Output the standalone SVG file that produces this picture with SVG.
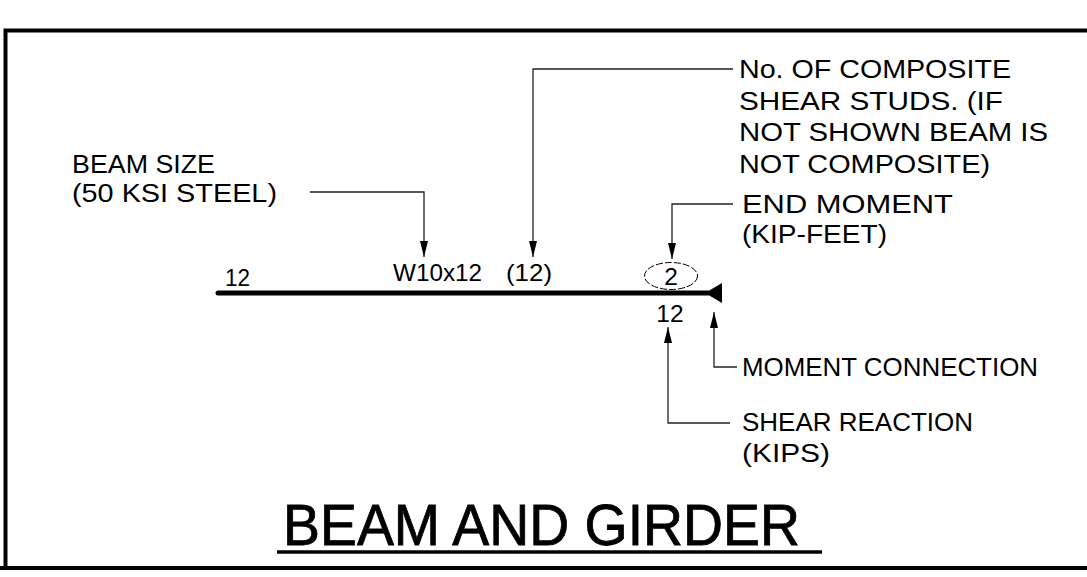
<svg xmlns="http://www.w3.org/2000/svg" width="1087" height="577" viewBox="0 0 1087 577">
<style>
.lbl{font-family:"Liberation Sans",Arial,sans-serif;font-size:26px;fill:#000}
.num{font-family:"Liberation Sans",Arial,sans-serif;font-size:24.5px;fill:#000}
.title{font-family:"Liberation Sans",Arial,sans-serif;font-size:57px;fill:#000;stroke:#000;stroke-width:0.8}
.border{stroke:#000;stroke-width:4;fill:none}
.leader{stroke:#222;stroke-width:1.3;fill:none}
</style>
<defs>
<marker id="arr" viewBox="0 0 16 8" refX="16" refY="4" markerWidth="16" markerHeight="8" markerUnits="userSpaceOnUse" orient="auto">
<path d="M0,0 L16,4 L0,8 Z" fill="#000"/>
</marker>
</defs>
<rect width="1087" height="577" fill="#fff"/>
<g id="frame">
<path class="border" d="M1087,30.5 H5.5 V568"/>
<path class="border" d="M0,568 H1087"/>
</g>
<g id="beam">
<line x1="218" y1="293" x2="708" y2="293" stroke="#000" stroke-width="5" stroke-linecap="round"/>
<polygon points="705,293 722,283 722,303" fill="#000"/>
</g>
<g id="beam-labels">
<text class="num" x="225" y="286" textLength="25" lengthAdjust="spacingAndGlyphs">12</text>
<text class="num" x="393" y="281" textLength="89" lengthAdjust="spacingAndGlyphs">W10x12</text>
<text class="num" x="506" y="281" textLength="46" lengthAdjust="spacingAndGlyphs">(12)</text>
</g>
<g id="end-moment-value">
<ellipse cx="671" cy="276" rx="26.5" ry="13.5" fill="none" stroke="#000" stroke-width="1" stroke-dasharray="7 2"/>
<text class="num" x="671" y="285" text-anchor="middle">2</text>
</g>
<g id="shear-value">
<text class="num" x="670" y="322" text-anchor="middle">12</text>
</g>
<g id="connectors">
<path class="leader" d="M310,192 H424 V257" marker-end="url(#arr)"/>
<path class="leader" d="M733,69 H533 V257" marker-end="url(#arr)"/>
<path class="leader" d="M733,204 H672 V259" marker-end="url(#arr)"/>
<path class="leader" d="M737,367 H714 V312" marker-end="url(#arr)"/>
<path class="leader" d="M730,423 H668 V327" marker-end="url(#arr)"/>
</g>
<g id="label-beam-size">
<text class="lbl" x="72" y="173" textLength="143" lengthAdjust="spacingAndGlyphs">BEAM SIZE</text>
<text class="lbl" x="72" y="202" textLength="205" lengthAdjust="spacingAndGlyphs">(50 KSI STEEL)</text>
</g>
<g id="label-studs">
<text class="lbl" x="739" y="78" textLength="272" lengthAdjust="spacingAndGlyphs">No. OF COMPOSITE</text>
<text class="lbl" x="739" y="109.5" textLength="264" lengthAdjust="spacingAndGlyphs">SHEAR STUDS.  (IF</text>
<text class="lbl" x="739" y="141" textLength="309" lengthAdjust="spacingAndGlyphs">NOT SHOWN BEAM IS</text>
<text class="lbl" x="739" y="172.5" textLength="251" lengthAdjust="spacingAndGlyphs">NOT COMPOSITE)</text>
</g>
<g id="label-end-moment">
<text class="lbl" x="742" y="213" textLength="211" lengthAdjust="spacingAndGlyphs">END MOMENT</text>
<text class="lbl" x="742" y="243" textLength="145" lengthAdjust="spacingAndGlyphs">(KIP-FEET)</text>
</g>
<g id="label-moment-connection">
<text class="lbl" x="742" y="376" textLength="296" lengthAdjust="spacingAndGlyphs">MOMENT CONNECTION</text>
</g>
<g id="label-shear-reaction">
<text class="lbl" x="742" y="431" textLength="231" lengthAdjust="spacingAndGlyphs">SHEAR REACTION</text>
<text class="lbl" x="742" y="462" textLength="88" lengthAdjust="spacingAndGlyphs">(KIPS)</text>
</g>
<g id="title">
<text class="title" x="283" y="545" textLength="517" lengthAdjust="spacingAndGlyphs">BEAM AND GIRDER</text>
<line x1="277" y1="552" x2="822" y2="552" stroke="#000" stroke-width="3.5"/>
</g>
</svg>
